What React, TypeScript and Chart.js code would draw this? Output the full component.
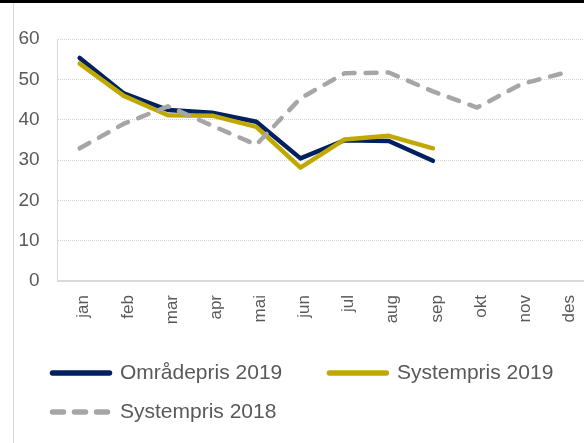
import React, { useEffect, useRef } from "react";
import { Chart, registerables } from "chart.js";

Chart.register(...registerables);

const months = ["jan", "feb", "mar", "apr", "mai", "jun", "jul", "aug", "sep", "okt", "nov", "des"];
const omradepris2019 = [55.3, 46.5, 42.4, 41.7, 39.5, 30.4, 34.9, 34.7, 29.8];
const systempris2019 = [53.9, 45.9, 41.1, 41.0, 38.2, 28.1, 35.1, 36.0, 32.9];
const systempris2018 = [32.9, 39.0, 43.3, 38.5, 33.8, 45.3, 51.5, 51.7, 47.0, 43.0, 48.8, 51.7];
const yMin = 0;
const yMax = 60;
const yStep = 10;

const FONT = "'Liberation Sans', Arial, sans-serif";
const TEXT = "#595959";

const legendShift = {
  id: "legendShift",
  afterLayout(chart: any) {
    const l = chart.legend;
    if (l) {
      l.left += 34.5;
      l.right += 34.5;
    }
  },
};

export default function App() {
  const ref = useRef<HTMLCanvasElement | null>(null);

  useEffect(() => {
    if (!ref.current) return;
    const chart = new Chart(ref.current, {
      type: "line",
      plugins: [legendShift],
      data: {
        labels: months,
        datasets: [
          {
            label: "Områdepris 2019",
            data: omradepris2019,
            borderColor: "#002060",
            backgroundColor: "#002060",
            borderWidth: 4.5,
            borderCapStyle: "round",
            borderJoinStyle: "round",
            pointRadius: 0,
            tension: 0,
            order: 2,
          },
          {
            label: "Systempris 2019",
            data: systempris2019,
            borderColor: "#BFA900",
            backgroundColor: "#BFA900",
            borderWidth: 4.5,
            borderCapStyle: "round",
            borderJoinStyle: "round",
            pointRadius: 0,
            tension: 0,
            order: 1,
          },
          {
            label: "Systempris 2018",
            data: systempris2018,
            borderColor: "#A6A6A6",
            backgroundColor: "#A6A6A6",
            borderWidth: 4.5,
            borderDash: [11, 11],
            borderCapStyle: "round",
            borderJoinStyle: "round",
            pointRadius: 0,
            tension: 0,
            order: 0,
          },
        ],
      },
      options: {
        animation: false,
        responsive: false,
        devicePixelRatio: 1,
        layout: { padding: { left: 0, right: 5, top: 39, bottom: 27.5 } },
        font: { family: FONT },
        plugins: {
          tooltip: { enabled: false },
          legend: {
            position: "bottom",
            align: "start",
            labels: {
              color: TEXT,
              font: { family: FONT, size: 21 },
              usePointStyle: true,
              pointStyle: "line",
              pointStyleWidth: 57,
              padding: 18,
              sort: (a: any, b: any) => a.datasetIndex - b.datasetIndex,
              generateLabels: (c: any) => {
                const items = (Chart.defaults.plugins.legend.labels as any).generateLabels(c);
                return items.map((it: any) => {
                  const ds = c.data.datasets[it.datasetIndex];
                  return {
                    ...it,
                    text: it.datasetIndex === 0 ? it.text + "\u00a0\u00a0\u00a0\u00a0\u00a0" : it.text,
                    strokeStyle: ds.borderColor,
                    lineWidth: 5.5,
                    lineCap: "round",
                    lineDash: ds.borderDash || [],
                  };
                });
              },
            },
          },
        },
        scales: {
          x: {
            type: "category",
            offset: true,
            grid: { display: false, drawTicks: false },
            border: { display: true, color: "#D9D9D9", width: 2 },
            ticks: {
              color: TEXT,
              font: { family: FONT, size: 17 },
              autoSkip: false,
              minRotation: 90,
              maxRotation: 90,
              padding: 14,
              labelOffset: 4,
            },
            afterFit: (s: any) => {
              s.height = 63.5;
            },
          },
          y: {
            min: yMin,
            max: yMax,
            grid: { color: "#D4D4D4", lineWidth: 1, drawTicks: false },
            border: { display: true, color: "#D9D9D9", width: 1, dash: [1, 1] },
            ticks: {
              stepSize: yStep,
              color: TEXT,
              font: { family: FONT, size: 19 },
              padding: 18,
            },
            afterFit: (s: any) => {
              s.width = 57.6;
            },
          },
        },
      },
    });
    return () => chart.destroy();
  }, []);

  return (
    <div
      style={{
        position: "fixed",
        left: 0,
        top: 0,
        width: 584,
        height: 443,
        overflow: "hidden",
        background: "#ffffff",
      }}
    >
      <canvas
        ref={ref}
        width={600}
        height={460}
        style={{ position: "absolute", left: 0, top: 0, width: 600, height: 460 }}
      />
      <div style={{ position: "absolute", left: 0, top: 0, width: 584, height: 3, background: "#000000" }} />
      <div style={{ position: "absolute", left: 13, top: 3, width: 1, height: 440, background: "#D9D9D9" }} />
    </div>
  );
}
